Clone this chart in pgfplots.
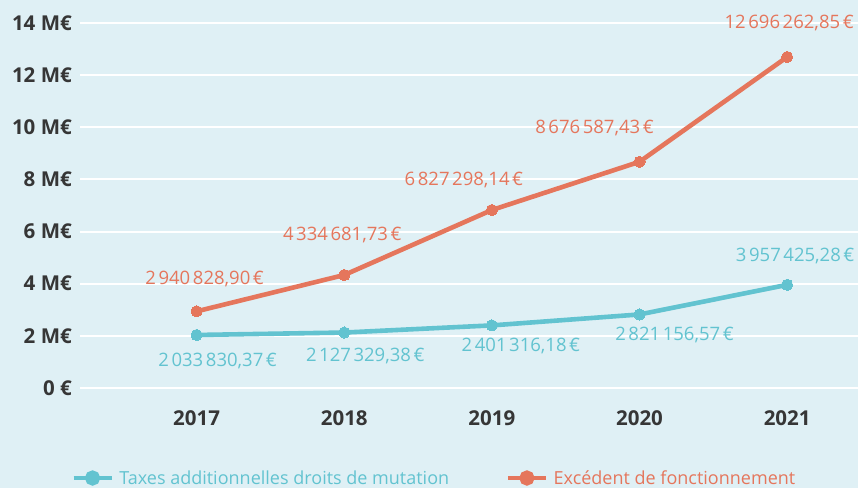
\documentclass[border=0pt]{standalone}
\usepackage{fontspec}
\setmainfont{Open Sans}
\usepackage{pgfplots}
\pgfplotsset{compat=1.18}
\definecolor{bg}{HTML}{DFF0F5}
\definecolor{teal}{HTML}{62C3D0}
\definecolor{coral}{HTML}{E5765C}
\definecolor{dark}{HTML}{363636}
\newcommand\ns{\kern2.6pt}
\begin{document}
\begin{tikzpicture}[x=1pt,y=1pt]
\fill[bg] (0,0) rectangle (858,488);
\path[use as bounding box] (0,0) rectangle (858,488);
\begin{axis}[
  at={(80pt,100pt)}, anchor=south west,
  scale only axis, width=778pt, height=365pt,
  xmin=2016.21, xmax=2021.48, ymin=0, ymax=14,
  axis line style={draw=none},
  clip=false,
  xtick={2017,2018,2019,2020,2021},
  xticklabels={2017,2018,2019,2020,2021},
  ytick={0,2,4,6,8,10,12,14},
  yticklabels={0 €,2 M€,4 M€,6 M€,8 M€,10 M€,12 M€,14 M€},
  tick style={draw=none},
  ticklabel style={font=\bfseries\fontsize{20.5}{24}\selectfont, text=dark, inner sep=0pt},
  yticklabel style={anchor=east, xshift=-8pt},
  xticklabel style={anchor=center, yshift=-30pt},
  ymajorgrids, grid style={white, line width=2pt},
  legend style={at={(0.4557,-0.2466)}, anchor=center, draw=none, fill=none,
    font=\fontsize{18}{21}\selectfont, legend columns=2,
    /tikz/every odd column/.append style={column sep=4pt},
    /tikz/every even column/.append style={column sep=55pt}},
  legend cell align=left,
  legend image code/.code={\draw[#1, line width=3.5pt] (0pt,0pt) -- (38pt,0pt);
    \fill[#1] (19pt,0pt) circle (5.3pt);},
]
\addplot[teal, line width=4.6pt, mark=*, mark size=5.6pt, mark options={fill=teal, draw=teal, line width=0pt}]
  coordinates {(2017,2.03383037) (2018,2.12732938) (2019,2.40131618) (2020,2.82115657) (2021,3.95742528)};
\addlegendentry{\textcolor{teal}{Taxes additionnelles droits de mutation}}
\addplot[coral, line width=4.6pt, mark=*, mark size=5.6pt, mark options={fill=coral, draw=coral, line width=0pt}]
  coordinates {(2017,2.94082890) (2018,4.33468173) (2019,6.82729814) (2020,8.67658743) (2021,12.69626285)};
\addlegendentry{\textcolor{coral}{Excédent de fonctionnement}}
\tikzset{lab/.style={font=\fontsize{18.5}{21}\selectfont, inner sep=0pt}}
\node[lab, text=coral] at (axis cs:2017,2.94082890) [xshift=8pt, yshift=32pt] {2\ns940\ns828,90\ns€};
\node[lab, text=coral] at (axis cs:2018,4.33468173) [xshift=-2pt, yshift=40pt] {4\ns334\ns681,73\ns€};
\node[lab, text=coral] at (axis cs:2019,6.82729814) [xshift=-28pt, yshift=30pt] {6\ns827\ns298,14\ns€};
\node[lab, text=coral] at (axis cs:2020,8.67658743) [xshift=-45pt, yshift=34pt] {8\ns676\ns587,43\ns€};
\node[lab, text=coral] at (axis cs:2021,12.69626285) [xshift=2pt, yshift=34pt] {12\ns696\ns262,85\ns€};
\node[lab, text=teal] at (axis cs:2017,2.03383037) [xshift=21pt, yshift=-26pt] {2\ns033\ns830,37\ns€};
\node[lab, text=teal] at (axis cs:2018,2.12732938) [xshift=21pt, yshift=-23pt] {2\ns127\ns329,38\ns€};
\node[lab, text=teal] at (axis cs:2019,2.40131618) [xshift=29pt, yshift=-21pt] {2\ns401\ns316,18\ns€};
\node[lab, text=teal] at (axis cs:2020,2.82115657) [xshift=35pt, yshift=-21pt] {2\ns821\ns156,57\ns€};
\node[lab, text=teal] at (axis cs:2021,3.95742528) [xshift=8pt, yshift=29pt] {3\ns957\ns425,28\ns€};
\end{axis}
\end{tikzpicture}
\end{document}
